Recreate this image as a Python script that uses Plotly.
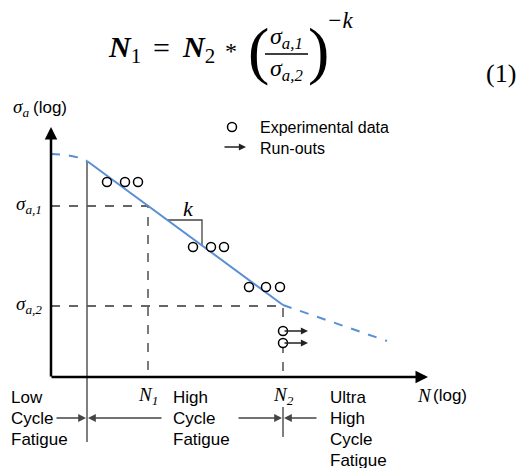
import plotly.graph_objects as go

# Diagram coordinates (schematic S-N curve, arbitrary log units mapped to canvas)
axis_origin = (51, 377)
yaxis_top = 127
xaxis_end = 428

sn_solid_x = [87, 283]
sn_solid_y = [161, 305]
sn_left_x = [51, 66, 80, 87]
sn_left_y = [154, 155, 158, 161]
sn_right_x = [283, 387]
sn_right_y = [305, 341]

exp_x = [107, 125, 138, 193, 211, 224, 249, 266, 280]
exp_y = [182, 182, 182, 247, 247, 247, 287, 287, 287]

runout_x = [283, 283]
runout_y = [331, 343]
runout_len = 25

sig1_y = 206
sig2_y = 306
n1_x = 148
n2_x = 283
lcf_x = 87

SERIF = "Liberation Serif"
SANS = "Liberation Sans"

fig = go.Figure()

dash_style = dict(color="#333333", width=1.3, dash="dash")
# dashed guide lines
fig.add_trace(go.Scatter(x=[axis_origin[0], n1_x, n1_x], y=[sig1_y, sig1_y, axis_origin[1]],
                         mode="lines", line=dash_style, hoverinfo="skip"))
fig.add_trace(go.Scatter(x=[axis_origin[0], n2_x, n2_x], y=[sig2_y, sig2_y, axis_origin[1]],
                         mode="lines", line=dash_style, hoverinfo="skip"))
# gray vertical boundary lines
fig.add_trace(go.Scatter(x=[lcf_x, lcf_x], y=[sn_solid_y[0], 442], mode="lines",
                         line=dict(color="#555555", width=1.5), hoverinfo="skip"))
fig.add_trace(go.Scatter(x=[n2_x, n2_x], y=[407, 437], mode="lines",
                         line=dict(color="#555555", width=1.5), hoverinfo="skip"))
# slope triangle
fig.add_trace(go.Scatter(x=[168, 202, 202], y=[220, 220, 245], mode="lines",
                         line=dict(color="#444444", width=1.3), hoverinfo="skip"))
# S-N curve
blue = "#5a8fd6"
fig.add_trace(go.Scatter(x=sn_left_x, y=sn_left_y, mode="lines",
                         line=dict(color=blue, width=2, dash="dash", shape="spline"), hoverinfo="skip"))
fig.add_trace(go.Scatter(x=sn_right_x, y=sn_right_y, mode="lines",
                         line=dict(color=blue, width=2, dash="dash"), hoverinfo="skip"))
fig.add_trace(go.Scatter(x=sn_solid_x, y=sn_solid_y, mode="lines",
                         line=dict(color=blue, width=2), hoverinfo="skip"))

annotations = []


def arrow(x0, y0, x1, y1, width=1.3, color="#444444", head=2, size=1.2):
    annotations.append(dict(x=x1, y=y1, ax=x0, ay=y0, xref="x", yref="y", axref="x", ayref="y",
                            text="", showarrow=True, arrowhead=head, arrowsize=size,
                            arrowwidth=width, arrowcolor=color, standoff=0, startstandoff=0))


# run-out arrows
for rx, ry in zip(runout_x, runout_y):
    arrow(rx, ry, rx + runout_len, ry, width=1.3, color="#222222", size=1.1)
# legend arrow
arrow(223, 147, 246, 147, width=1.3, color="#222222", size=1.1)

# data markers
fig.add_trace(go.Scatter(x=exp_x + runout_x + [232], y=exp_y + runout_y + [127], mode="markers",
                         marker=dict(symbol="circle", size=9, color="white",
                                     line=dict(color="black", width=1.5)), hoverinfo="skip"))

# axes with arrows
arrow(axis_origin[0], axis_origin[1] + 1, axis_origin[0], yaxis_top, width=2.5, color="black", size=1.0)
arrow(axis_origin[0] - 1, axis_origin[1], xaxis_end, axis_origin[1], width=2.5, color="black", size=1.0)

# regime arrows
arrow(55, 418, lcf_x - 1, 418)
arrow(163, 418, lcf_x + 1, 418)
arrow(237, 418, n2_x - 1, 418)
arrow(318, 418, n2_x + 1, 418)


def text(x, y, s, size=17, family=SANS, xanchor="left", yanchor="middle", color="black"):
    annotations.append(dict(x=x, y=y, xref="x", yref="y", text=s, showarrow=False,
                            font=dict(family=family, size=size, color=color),
                            xanchor=xanchor, yanchor=yanchor))


# legend texts
text(258, 127, "Experimental data", size=16)
text(258, 148, "Run-outs", size=16)

# axis labels
text(11, 108, "<i>σ<sub>a</sub></i>", size=19, family=SERIF)
text(31, 107, "(log)", size=17)
text(415, 395, "<i>N</i>", size=19, family=SERIF)
text(431, 395, "(log)", size=17)

text(14, 205, "<i>σ<sub>a,1</sub></i>", size=19, family=SERIF)
text(14, 305, "<i>σ<sub>a,2</sub></i>", size=19, family=SERIF)
text(n1_x, 396, "<i>N<sub>1</sub></i>", size=19, family=SERIF, xanchor="center")
text(n2_x, 396, "<i>N<sub>2</sub></i>", size=19, family=SERIF, xanchor="center")
text(188, 208, "<i>k</i>", size=22, family=SERIF, xanchor="center")

# regime labels
for i, s in enumerate(["Low", "Cycle", "Fatigue"]):
    text(9, 397 + 21 * i, s)
for i, s in enumerate(["High", "Cycle", "Fatigue"]):
    text(171, 397 + 21 * i, s)
for i, s in enumerate(["Ultra", "High", "Cycle", "Fatigue"]):
    text(328, 397 + 21 * i, s)

# equation
eq_size = 30
text(106, 49, "<i><b>N</b></i><sub>1</sub>", size=eq_size, family=SERIF)
text(151, 47, "=", size=eq_size, family=SERIF)
text(180, 49, "<i><b>N</b></i><sub>2</sub>", size=eq_size, family=SERIF)
text(231, 51, "*", size=24, family=SERIF, xanchor="center")
text(258, 50, "(", size=64, family=SERIF, xanchor="center")
text(318, 50, ")", size=64, family=SERIF, xanchor="center")
text(286, 38, "<i>σ<sub>a,1</sub></i>", size=24, family=SERIF, xanchor="center")
text(286, 70, "<i>σ<sub>a,2</sub></i>", size=24, family=SERIF, xanchor="center")
text(340, 20, "<i>−k</i>", size=23, family=SERIF, xanchor="center")
text(501, 73, "(1)", size=26, family=SERIF, xanchor="center")

fig.add_trace(go.Scatter(x=[265, 308], y=[54, 54], mode="lines",
                         line=dict(color="black", width=1.4), hoverinfo="skip"))

fig.update_layout(
    width=520, height=468,
    margin=dict(l=0, r=0, t=0, b=0),
    paper_bgcolor="white", plot_bgcolor="white",
    showlegend=False,
    xaxis=dict(range=[0, 520], visible=False, fixedrange=True),
    yaxis=dict(range=[468, 0], visible=False, fixedrange=True),
    annotations=annotations,
)

fig.write_html("out.html")
